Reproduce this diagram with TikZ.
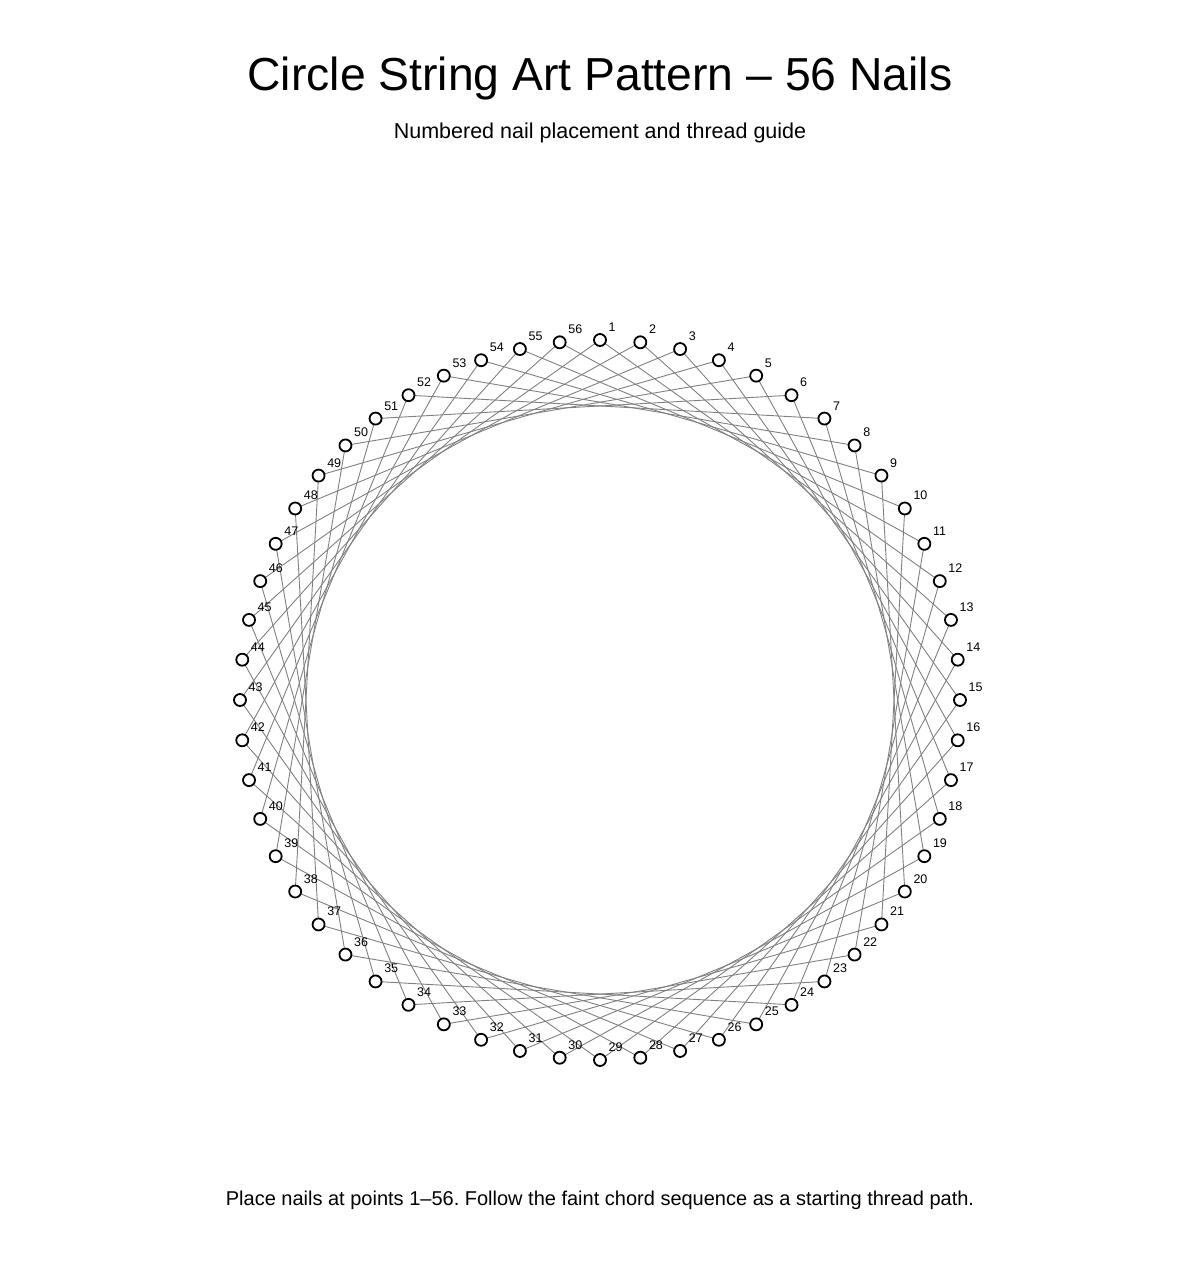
\documentclass[tikz,border=0pt]{standalone}
\usepackage{fontspec}
\setmainfont{Liberation Sans}
\frenchspacing
\begin{document}
\begin{tikzpicture}[x=1pt,y=-1pt,
  nail/.style={circle,draw=black,fill=white,line width=1.8pt,minimum size=12pt,inner sep=0pt},
  chord/.style={draw=black!50,line width=0.9pt},
  lbl/.style={anchor=base west,inner sep=0pt,font=\fontsize{12.5}{14}\selectfont}]
\useasboundingbox (0,0) rectangle (1200,1280);
\node[anchor=base,inner sep=0pt,font=\fontsize{46.3}{50}\selectfont] (title) at (600,90) {Circle String Art Pattern – 56 Nails};
\node[anchor=base,inner sep=0pt,font=\fontsize{21.5}{24}\selectfont] (sub) at (600,138) {Numbered nail placement and thread guide};
\node[anchor=base,inner sep=0pt,font=\fontsize{20}{24}\selectfont] (foot) at (600,1205) {Place nails at points 1–56. Follow the faint chord sequence as a starting thread path.};
\foreach \i in {1,...,56}{
  \pgfmathsetmacro{\ang}{(\i-1)*6.4285714-90}
  \pgfmathsetmacro{\px}{600+360*cos(\ang)}
  \pgfmathsetmacro{\py}{700+360*sin(\ang)}
  \coordinate (c\i) at (\px,\py);
}
\foreach \i in {1,...,56}{
  \pgfmathtruncatemacro{\j}{mod(\i+10,56)+1}
  \draw[chord] (c\i) -- (c\j);
}
\foreach \i in {1,...,56}{
  \node[nail] (n\i) at (c\i) {};
  \node[lbl] (l\i) at ([xshift=8.5pt,yshift=8.5pt]c\i) {\i};
}
\end{tikzpicture}
\end{document}
